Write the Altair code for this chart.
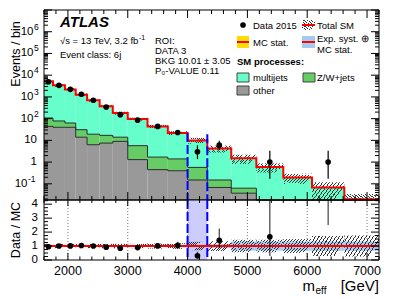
import altair as alt
import pandas as pd

# ---------------- values ----------------
edges = [1600, 1750, 1950, 2130, 2320, 2530, 2750, 3000, 3330, 3670, 4000,
         4330, 4730, 5150, 5600, 6080, 6620, 7200]
multijets = [5140, 3320, 2140, 1240, 680, 353, 166, 90, 42, 20.6, 9.4,
             4.1, 1.44, 0.59, 0.19, 0.065, 0.018]
zwjets = [63, 38, 23, 17, 13, 9.5, 5.0, 4.4, 1.25, 1.0, 0.42,
          0.082, 0.026, 0.004, 0.002, 0.001, 0.0005]
other = [44, 40, 40, 14, 6.3, 7.5, 9.0, 1.3, 0.45, 0.40, 0.15,
         0.068, 0.037, 0.008, 0.004, 0.002, 0.001]
data_counts = [5000, 3400, 2230, 1320, 700, 340, 152, 85, 44, 23, 3, 6, 0, 1, 0, 1, 0]
data_err_lo = [71, 58, 47, 36, 26, 18, 12, 9.2, 6.6, 4.8, 1.63, 2.38, 0, 0.83, 0, 0.83, 0]
data_err_hi = [71, 58, 47, 36, 26, 18, 12, 9.2, 7.7, 5.8, 2.92, 3.58, 1.84, 2.30, 1.84, 2.30, 1.84]
tot_unc = [0.15, 0.15, 0.15, 0.15, 0.15, 0.15, 0.16, 0.16, 0.18, 0.20, 0.30,
           0.35, 0.45, 0.45, 0.50, 0.72, 0.75]
exp_unc = [0.04, 0.04, 0.04, 0.05, 0.05, 0.06, 0.06, 0.07, 0.08, 0.10, 0.12,
           0.15, 0.33, 0.33, 0.33, 0.33, 0.33]
mcstat_unc = [0.01, 0.01, 0.01, 0.01, 0.01, 0.01, 0.02, 0.02, 0.02, 0.02, 0.03,
              0.03, 0.03, 0.04, 0.04, 0.08, 0.04]
roi_edges = [4000, 4330]
roi_tops = [22, 19]
x_major = [2000, 3000, 4000, 5000, 6000, 7000]
x_labels = ["2000", "3000", "4000", "5000", "6000", "7000"]
y_plain_vals = [1, 10]
y_plain_txt = ["1", "10"]
y_pos_vals = [1e2, 1e3, 1e4, 1e5, 1e6]
y_pos_exp = ["2", "3", "4", "5", "6"]
y_neg_vals = [0.1]
y_neg_exp = ["-1"]
r_vals = [0, 1, 2, 3, 4]
r_txt = ["0", "1", "2", "3", "4"]

# ---------------- layout ----------------
W, H, HM = 335, 250, 190
FONT = "Liberation Sans"
C_MJ, C_ZW, C_OT = "#66ffcc", "#66cc66", "#999999"
C_BLUE, C_YEL, C_ROI = "#a3cbf2", "#ffdd00", "#ccccff"

X = alt.Scale(domain=[1600, 7200], nice=False, zero=False)
YM = alt.Scale(type="log", domain=[0.018, 1e7], range=[HM, 0], clamp=True, nice=False)
YR = alt.Scale(domain=[0, 4.3], range=[H, HM], clamp=True, nice=False, zero=False)


def xq(f):
    return alt.X(f, type="quantitative", scale=X, axis=None)


def ym(f):
    return alt.Y(f, type="quantitative", scale=YM, axis=None)


def yr(f):
    return alt.Y(f, type="quantitative", scale=YR, axis=None)


def hatch(n=11, dark="#333333", frac=0.3):
    stops = []
    clear = "rgba(0,0,0,0)"
    for i in range(n):
        a, b, c = i / n, (i + frac) / n, (i + 1) / n
        stops += [alt.GradientStop(color=dark, offset=a),
                  alt.GradientStop(color=dark, offset=b),
                  alt.GradientStop(color=clear, offset=b),
                  alt.GradientStop(color=clear, offset=c)]
    return alt.LinearGradient(gradient="linear", stops=stops, x1=0, y1=0, x2=1, y2=0.4)


HATCH = hatch()

# ---------------- tables ----------------
lo, hi = edges[:-1], edges[1:]
c_other = list(other)
c_zw = [o + z for o, z in zip(other, zwjets)]
total = [c + m for c, m in zip(c_zw, multijets)]
bins = pd.DataFrame({
    "lo": lo, "hi": hi, "floor": [1e-4] * len(lo),
    "c_other": c_other, "c_zw": c_zw, "tot": total,
    "h_lo": [t * (1 - u) for t, u in zip(total, tot_unc)],
    "h_hi": [t * (1 + u) for t, u in zip(total, tot_unc)],
    "rh_lo": [1 - u for u in tot_unc], "rh_hi": [1 + u for u in tot_unc],
    "rb_lo": [1 - u for u in exp_unc], "rb_hi": [1 + u for u in exp_unc],
    "ry_lo": [1 - u for u in mcstat_unc], "ry_hi": [1 + u for u in mcstat_unc],
})
step = pd.DataFrame({
    "x": edges,
    "tot": total + [total[-1]],
    "c_zw": c_zw + [c_zw[-1]],
    "c_other": c_other + [c_other[-1]],
})
pts = pd.DataFrame({
    "c": [(a + b) / 2 for a, b in zip(lo, hi)],
    "n": data_counts, "elo": data_err_lo, "ehi": data_err_hi, "tot": total,
})
pts = pts[pts["n"] > 0].copy()
pts["n_lo"] = pts["n"] - pts["elo"]
pts["n_hi"] = pts["n"] + pts["ehi"]
pts["r"] = pts["n"] / pts["tot"]
pts["r_lo"] = pts["n_lo"] / pts["tot"]
pts["r_hi"] = pts["n_hi"] / pts["tot"]
pts_r = pts[pts["r"] <= 4.3]
roi = pd.DataFrame({"x": roi_edges, "top": roi_tops, "bot": [0.018, 0.018],
                    "rtop": [4.3, 4.3], "rbot": [0, 0]})
roi_band = pd.DataFrame({"a": [roi_edges[0]], "b": [roi_edges[1]], "y0": [0], "y1": [4.3]})
grid = pd.DataFrame({"x": x_major, "y0": [0] * 6, "y1": [4.3] * 6})
one = pd.DataFrame({"y": [1]})
dummy = pd.DataFrame({"a": [0]})

# ticks
ym_major = pd.DataFrame({"v": [1e-1, 1, 10, 1e2, 1e3, 1e4, 1e5, 1e6, 1e7]})
ym_minor = pd.DataFrame({"v": [k * 10.0 ** d for d in range(-2, 7) for k in range(2, 10)
                               if 0.018 <= k * 10.0 ** d <= 1e7]})
yr_major = pd.DataFrame({"v": r_vals})
yr_minor = pd.DataFrame({"v": [i * 0.25 for i in range(18) if i % 4 != 0]})
xt_major = pd.DataFrame({"v": x_major})
xt_minor = pd.DataFrame({"v": [1600 + 200 * i for i in range(29) if (1600 + 200 * i) % 1000 != 0]})


def yticks(df, yenc, length):
    b = alt.Chart(df).mark_rule(color="black", strokeWidth=1)
    return [b.encode(x=alt.value(0), x2=alt.value(length), y=yenc),
            b.encode(x=alt.value(W - length), x2=alt.value(W), y=yenc)]


def xticks(df, y0, y1):
    return alt.Chart(df).mark_rule(color="black", strokeWidth=1).encode(
        x=xq("v"), y=alt.value(y0), y2=alt.value(y1))


def txt(x, y, s, size=10, align="left", baseline="alphabetic", weight="normal",
        style="normal", angle=0):
    kw = dict(align=align, baseline=baseline, fontSize=size, font=FONT,
              fontWeight=weight, fontStyle=style, color="black", text=s)
    if angle:
        kw["angle"] = angle
    return alt.Chart(dummy).mark_text(**kw).encode(x=alt.value(x), y=alt.value(y))


def box(x0, x1, y0, y1, fill, stroke=None):
    kw = dict(fill=fill)
    if stroke:
        kw.update(stroke=stroke, strokeWidth=1)
    return alt.Chart(dummy).mark_rect(**kw).encode(
        x=alt.value(x0), x2=alt.value(x1), y=alt.value(y0), y2=alt.value(y1))


def hline(x0, x1, y, color="#ff0000", w=2):
    return alt.Chart(dummy).mark_rule(color=color, strokeWidth=w).encode(
        x=alt.value(x0), x2=alt.value(x1), y=alt.value(y))


LBL = 11.5

# ---------------- main panel ----------------
main = [
    alt.Chart(bins).mark_rect(fill=C_OT).encode(x=xq("lo"), x2="hi", y=ym("floor"), y2="c_other"),
    alt.Chart(bins).mark_rect(fill=C_ZW).encode(x=xq("lo"), x2="hi", y=ym("c_other"), y2="c_zw"),
    alt.Chart(bins).mark_rect(fill=C_MJ).encode(x=xq("lo"), x2="hi", y=ym("c_zw"), y2="tot"),
    alt.Chart(step).mark_line(interpolate="step-after", color="#2b2b2b", strokeWidth=1).encode(
        x=xq("x"), y=ym("c_other")),
    alt.Chart(step).mark_line(interpolate="step-after", color="#2b2b2b", strokeWidth=1).encode(
        x=xq("x"), y=ym("c_zw")),
    alt.Chart(bins).mark_rect(fill=HATCH).encode(x=xq("lo"), x2="hi", y=ym("h_lo"), y2="h_hi"),
    alt.Chart(step).mark_line(interpolate="step-after", color="#ff0000", strokeWidth=2).encode(
        x=xq("x"), y=ym("tot")),
    alt.Chart(roi).mark_rule(color="#0000ff", strokeWidth=2, strokeDash=[9, 3]).encode(
        x=xq("x"), y=ym("top"), y2="bot"),
    alt.Chart(pts).mark_rule(color="black", strokeWidth=1.2).encode(
        x=xq("c"), y=ym("n_lo"), y2="n_hi"),
    alt.Chart(pts).mark_circle(color="black", opacity=1, size=32).encode(
        x=xq("c"), y=ym("n")),
]
main += yticks(ym_major, ym("v"), 8)
main += yticks(ym_minor, ym("v"), 4)
main += [xticks(xt_major, 0, 8), xticks(xt_minor, 0, 4),
         xticks(xt_major, HM - 8, HM), xticks(xt_minor, HM - 4, HM)]
main.append(alt.Chart(dummy).mark_rect(filled=False, stroke="black", strokeWidth=1).encode(
    x=alt.value(0), x2=alt.value(W), y=alt.value(0), y2=alt.value(HM)))

# y labels (main)
main += [
    alt.Chart(pd.DataFrame({"v": y_plain_vals, "t": y_plain_txt})).mark_text(
        align="right", baseline="middle", font=FONT, fontSize=LBL).encode(
        x=alt.value(-7), y=ym("v"), text="t"),
    alt.Chart(pd.DataFrame({"v": y_pos_vals})).mark_text(
        align="right", baseline="middle", font=FONT, fontSize=LBL, text="10").encode(
        x=alt.value(-10.5), y=ym("v")),
    alt.Chart(pd.DataFrame({"v": y_pos_vals, "t": y_pos_exp})).mark_text(
        align="left", baseline="middle", font=FONT, fontSize=8.5, dy=-5).encode(
        x=alt.value(-10), y=ym("v"), text="t"),
    alt.Chart(pd.DataFrame({"v": y_neg_vals})).mark_text(
        align="right", baseline="middle", font=FONT, fontSize=LBL, text="10").encode(
        x=alt.value(-16.5), y=ym("v")),
    alt.Chart(pd.DataFrame({"v": y_neg_vals, "t": y_neg_exp})).mark_text(
        align="left", baseline="middle", font=FONT, fontSize=8.5, dy=-5).encode(
        x=alt.value(-16), y=ym("v"), text="t"),
]

# annotations
main += [
    txt(16, 17, "ATLAS", size=15, weight="bold", style="italic"),
    txt(16, 34, "√s = 13 TeV, 3.2 fb", size=9.5),
    txt(95, 30, "-1", size=7),
    txt(16, 47.5, "Event class: 6j", size=9.5),
    txt(111, 33.5, "ROI:", size=9.5),
    txt(111, 43.5, "DATA  3", size=9.5),
    txt(111, 53.5, "BKG  10.01 ± 3.05", size=9.5),
    txt(111, 63.5, "P₀-VALUE  0.11", size=9.5),
    # legend
    alt.Chart(dummy).mark_circle(color="black", opacity=1, size=32).encode(
        x=alt.value(199), y=alt.value(15)),
    txt(209, 19, "Data 2015", size=9.5),
    box(258, 271, 10, 20, HATCH), hline(258, 271, 15),
    txt(273, 19, "Total SM", size=9.5),
    box(193, 205, 26, 38, C_YEL), hline(193, 205, 32),
    txt(209, 36, "MC stat.", size=9.5),
    box(258, 271, 26, 38, C_BLUE), hline(258, 271, 32),
    txt(273, 31.5, "Exp. syst. ⊕", size=9.5),
    txt(273, 42.5, "MC stat.", size=9.5),
    txt(193, 55, "SM processes:", size=9.5, weight="bold"),
    box(193, 205, 63, 72, C_MJ, "#444444"),
    txt(209, 71, "multijets", size=9.5),
    box(259, 271, 63, 72, C_ZW, "#444444"),
    txt(273, 71, "Z/W+jets", size=9.5),
    box(193, 205, 76, 85, C_OT, "#444444"),
    txt(209, 83.5, "other", size=9.5),
    # axis titles
    txt(-24.5, 44, "Events / bin", size=12.5, align="center", angle=270),
    txt(-24.5, 220, "Data / MC", size=12.5, align="center", angle=270),
    txt(335, 281, "[GeV]", size=15, align="right"),
    txt(271, 281, "m", size=15, align="right"),
    txt(271.5, 284, "eff", size=10),
]

# ---------------- ratio panel ----------------
ratio = [
    alt.Chart(roi_band).mark_rect(fill=C_ROI).encode(x=xq("a"), x2="b", y=yr("y0"), y2="y1"),
    alt.Chart(grid).mark_rule(color="#777777", strokeWidth=1, strokeDash=[1, 2]).encode(
        x=xq("x"), y=yr("y0"), y2="y1"),
    alt.Chart(bins).mark_rect(fill=C_BLUE).encode(x=xq("lo"), x2="hi", y=yr("rb_lo"), y2="rb_hi"),
    alt.Chart(bins).mark_rect(fill=C_YEL).encode(x=xq("lo"), x2="hi", y=yr("ry_lo"), y2="ry_hi"),
    alt.Chart(bins).mark_rect(fill=HATCH).encode(x=xq("lo"), x2="hi", y=yr("rh_lo"), y2="rh_hi"),
    alt.Chart(one).mark_rule(color="#ff0000", strokeWidth=2).encode(
        x=alt.value(0), x2=alt.value(W), y=yr("y")),
    alt.Chart(roi).mark_rule(color="#0000ff", strokeWidth=2, strokeDash=[9, 3]).encode(
        x=xq("x"), y=yr("rtop"), y2="rbot"),
    alt.Chart(pts).mark_rule(color="black", strokeWidth=1.2, opacity=0.75).encode(
        x=xq("c"), y=yr("r_lo"), y2="r_hi"),
    alt.Chart(pts_r).mark_circle(color="black", opacity=1, size=32).encode(
        x=xq("c"), y=yr("r")),
]
ratio += yticks(yr_major, yr("v"), 8)
ratio += yticks(yr_minor, yr("v"), 4)
ratio += [xticks(xt_major, HM, HM + 6), xticks(xt_minor, HM, HM + 3),
          xticks(xt_major, H - 7, H), xticks(xt_minor, H - 3.5, H)]
ratio.append(alt.Chart(dummy).mark_rect(filled=False, stroke="black", strokeWidth=1).encode(
    x=alt.value(0), x2=alt.value(W), y=alt.value(HM), y2=alt.value(H)))
ratio += [
    alt.Chart(pd.DataFrame({"v": r_vals, "t": r_txt})).mark_text(
        align="right", baseline="middle", font=FONT, fontSize=LBL).encode(
        x=alt.value(-6), y=yr("v"), text="t"),
    alt.Chart(pd.DataFrame({"v": x_major, "t": x_labels})).mark_text(
        align="center", baseline="top", font=FONT, fontSize=12.5).encode(
        x=xq("v"), y=alt.value(H + 5), text="t"),
]

chart = alt.layer(alt.layer(*main), alt.layer(*ratio)).resolve_scale(y="independent").properties(
    width=W, height=H,
    autosize=alt.AutoSizeParams(type="none"),
    padding={"left": 36, "top": 2, "right": 12, "bottom": 38},
).configure_view(stroke=None)

chart.save("out.html", embed_options={"renderer": "svg", "actions": False})
